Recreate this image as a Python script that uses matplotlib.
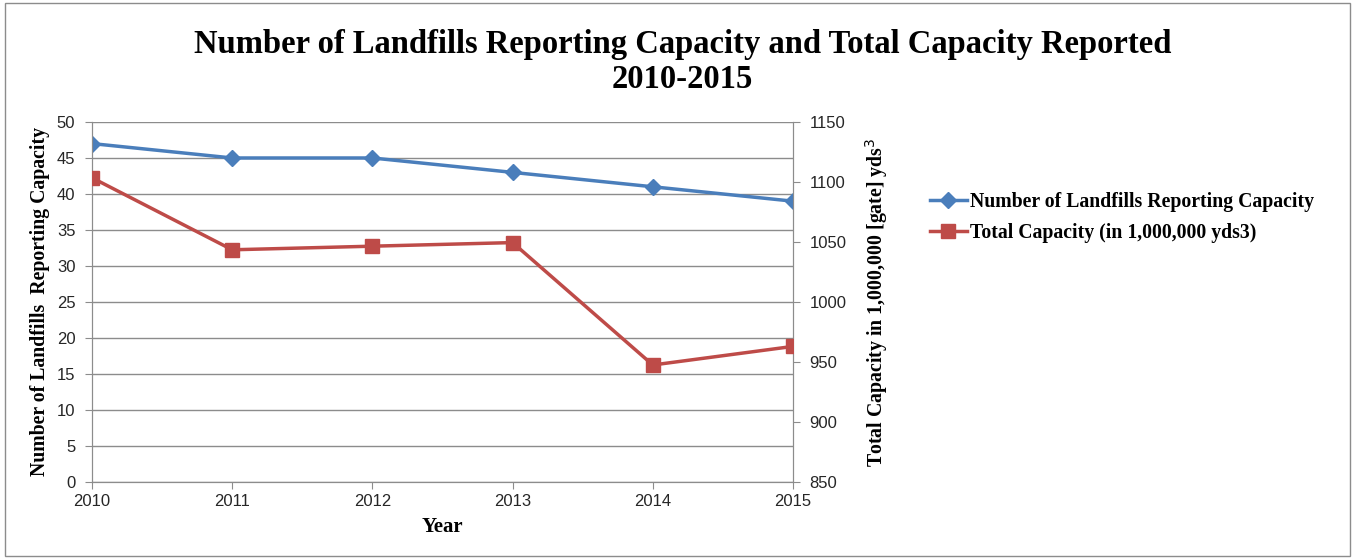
import matplotlib as mpl
mpl.use('Agg')
import matplotlib.pyplot as plt
from matplotlib.patches import Rectangle

years = [2010, 2011, 2012, 2013, 2014, 2015]
landfills = [47, 45, 45, 43, 41, 39]
capacity = [1103.5, 1043.5, 1046.5, 1049.5, 947.5, 963]

serif = 'Liberation Serif'
sans = 'Liberation Sans'

fig = plt.figure(figsize=(13.57, 5.58), dpi=100)
fig.patches.append(Rectangle((0.004, 0.004), 0.991, 0.99, transform=fig.transFigure,
                             fill=False, edgecolor='#8c8c8c', linewidth=1))

ax = fig.add_axes([0.0678, 0.1362, 0.5166, 0.6452])
ax2 = ax.twinx()

l1, = ax.plot(years, landfills, color='#4a7ebb', linewidth=2.5, marker='D',
              markersize=8, label='Number of Landfills Reporting Capacity', zorder=3)
l2, = ax2.plot(years, capacity, color='#be4b48', linewidth=2.5, marker='s',
               markersize=10, label='Total Capacity (in 1,000,000 yds3)', zorder=3)

ax.set_xlim(2010, 2015)
ax.set_ylim(0, 50)
ax2.set_ylim(850, 1150)
ax.set_yticks(range(0, 51, 5))
ax2.set_yticks(range(850, 1151, 50))
ax.set_xticks(years)
ax.yaxis.grid(True, color='#8c8c8c', linewidth=1)
ax.set_axisbelow(True)

for a in (ax, ax2):
    a.spines['top'].set_visible(False)
    for s in ('left', 'right', 'bottom'):
        a.spines[s].set_color('#8c8c8c')
    a.tick_params(colors='#8c8c8c', labelcolor='#262626', labelsize=12, length=5)
    a.tick_params(axis='y', pad=7)
    for lab in a.get_xticklabels() + a.get_yticklabels():
        lab.set_fontfamily(sans)

ax.set_xlabel('Year', fontfamily=serif, fontweight='bold', fontsize=15, labelpad=6)
ax.set_ylabel('Number of Landfills  Reporting Capacity', fontfamily=serif,
              fontweight='bold', fontsize=14.2, labelpad=5)
ax2.set_ylabel('Total Capacity in 1,000,000 [gate] yds$^3$', fontfamily=serif,
               fontweight='bold', fontsize=14.3, labelpad=12)

fig.text(0.503, 0.889, 'Number of Landfills Reporting Capacity and Total Capacity Reported\n2010-2015',
         ha='center', va='center', fontfamily=serif, fontweight='bold', fontsize=23.5,
         linespacing=1.2)

fig.legend(handles=[l1, l2], loc='upper left', bbox_to_anchor=(0.672, 0.688),
           frameon=False, prop={'family': serif, 'weight': 'bold', 'size': 14.2},
           handlelength=1.9, handletextpad=0.15, labelspacing=0.58)

fig.savefig('out.png', dpi=100)
